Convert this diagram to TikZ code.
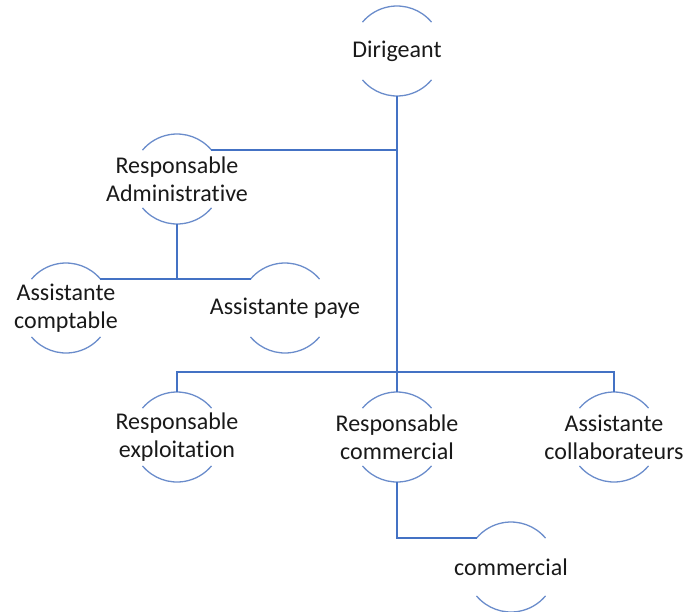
\documentclass[tikz,border=0pt]{standalone}
\usepackage{fontspec}
\setmainfont[Ligatures=NoCommon]{Carlito}
\usepackage{tikz}
\definecolor{orgline}{HTML}{4472C4}
\definecolor{orgarc}{HTML}{6A8CCB}
\tikzstyle{role} = [inner sep=0pt, align=center,
                 font=\fontsize{24}{28}\selectfont, text=black!90]
\tikzstyle{link} = [draw=orgline, line width=1.6pt]
\tikzset{
	arcline/.style={orgarc, line width=1.3pt},
}

\begin{document}
\begin{tikzpicture}[x=1pt, y=1pt]
\useasboundingbox (0,0) rectangle (687,-611);

\node [role] at (397,-51) (dir) {Dirigeant};
\node [role] at (177,-179) (radm) {Responsable\\Administrative};
\node [role] at (66,-308) (acpt) {Assistante\\comptable};
\node [role] at (285,-308) (apay) {Assistante paye};
\node [role] at (177,-437) (rexp) {Responsable\\exploitation};
\node [role] at (397,-437) (rcom) {Responsable\\commercial};
\node [role] at (614,-437) (acol) {Assistante\\collaborateurs};
\node [role] at (511,-567) (com) {commercial};

	%arcs (circle of radius 45 round each text)
\foreach \n in {dir, radm, acpt, apay, rexp, rcom, acol, com} {
	\coordinate (\n-top) at ([shift={(90:45)}]\n.center);
	\coordinate (\n-bot) at ([shift={(270:45)}]\n.center);
	\coordinate (\n-ne) at ([shift={(40:45)}]\n.center);
	\coordinate (\n-nw) at ([shift={(140:45)}]\n.center);
	\draw [arcline] (\n-ne) arc[start angle=40, end angle=140, radius=45]
		([shift={(220:45)}]\n.center) arc[start angle=220, end angle=320, radius=45];
}

	%links
\path [link] (dir-bot) -- (rcom-top);
\path [link] (radm-ne) -- (radm-ne -| dir-bot);
\path [link] (radm-bot) -- (radm-bot |- acpt-ne);
\path [link] (acpt-ne) -- (apay-nw);
\coordinate (bar) at (397,-372);
\path [link] (rexp-top) -- (rexp-top |- bar) -- (acol-top |- bar) -- (acol-top);
\path [link] (rcom-bot) |- (com-nw);

\end{tikzpicture}
\end{document}
